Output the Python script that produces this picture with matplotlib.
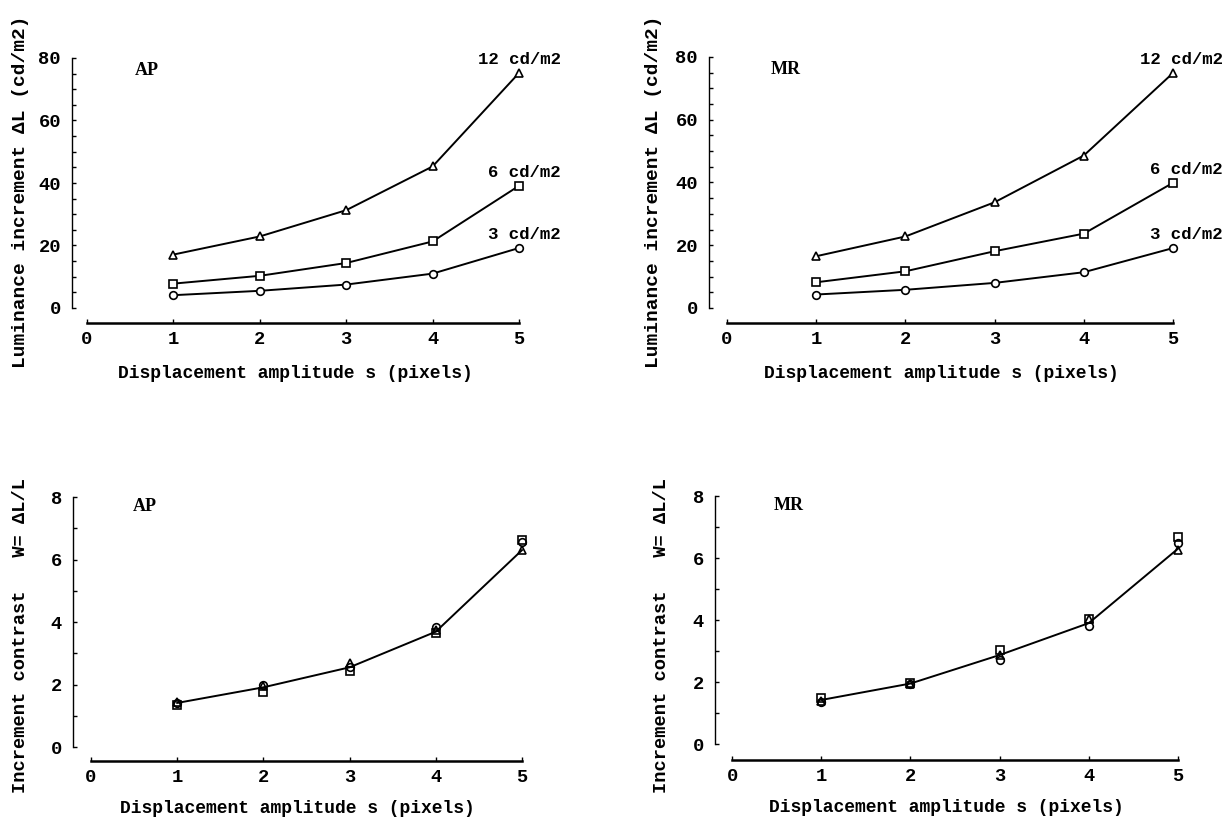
import matplotlib
matplotlib.use("Agg")
import matplotlib.pyplot as plt
from matplotlib.ticker import MultipleLocator

# Datos
s = [1, 2, 3, 4, 5]

# Incremento de luminancia (cd/m2), sujeto AP
ap_12 = [17.1, 22.9, 31.3, 45.3, 75.2]
ap_6 = [7.8, 10.3, 14.4, 21.3, 39.1]
ap_3 = [4.1, 5.5, 7.5, 11.0, 19.2]

# Incremento de luminancia (cd/m2), sujeto MR
mr_12 = [16.5, 22.8, 33.7, 48.6, 74.9]
mr_6 = [8.2, 11.7, 18.1, 23.7, 39.9]
mr_3 = [4.3, 5.8, 8.0, 11.4, 19.1]

# Contraste W = dL/L, sujeto AP
ap_w_12 = [1.45, 1.95, 2.68, 3.76, 6.29]
ap_w_6 = [1.33, 1.76, 2.44, 3.64, 6.63]
ap_w_3 = [1.40, 1.98, 2.57, 3.83, 6.55]
ap_w_fit = [1.41, 1.91, 2.55, 3.69, 6.30]

# Contraste W = dL/L, sujeto MR
mr_w_12 = [1.40, 1.93, 2.87, 4.02, 6.26]
mr_w_6 = [1.50, 1.97, 3.03, 4.02, 6.67]
mr_w_3 = [1.35, 1.95, 2.71, 3.80, 6.47]
mr_w_fit = [1.42, 1.95, 2.87, 3.90, 6.30]

levels = ["12 cd/m2", "6 cd/m2", "3 cd/m2"]
markers = ["^", "s", "o"]

W, H = 1229, 821
fig = plt.figure(figsize=(W / 100, H / 100), dpi=100)

mono = "Liberation Mono"
serif = "Liberation Serif"


def style_ticks(ax):
    for lab in ax.get_xticklabels() + ax.get_yticklabels():
        lab.set_family(mono)
        lab.set_weight("bold")
        lab.set_size(13.5)


def make_axes(spine_px, x0_px, x5_px, ytop_px, y0_px, xaxis_px, ymax):
    # posicion del eje en pixeles de la figura
    xunit = (x5_px - x0_px) / 5.0
    yunit = (y0_px - ytop_px) / ymax
    xmin = -(x0_px - spine_px) / xunit
    ymin = -(xaxis_px - y0_px) / yunit
    ax = fig.add_axes([spine_px / W, 1 - xaxis_px / H,
                       (x5_px - spine_px) / W, (xaxis_px - ytop_px) / H])
    ax.set_xlim(xmin, 5)
    ax.set_ylim(ymin, ymax)
    for side in ["top", "right"]:
        ax.spines[side].set_visible(False)
    ax.spines["left"].set_bounds(0, ymax)
    ax.spines["bottom"].set_bounds(0, 5)
    ax.spines["left"].set_linewidth(1.0)
    ax.spines["bottom"].set_linewidth(1.8)
    ax.set_xticks(range(6))
    ax.tick_params(axis="both", which="both", direction="in", length=3, width=1)
    ax.tick_params(axis="x", pad=6)
    ax.tick_params(axis="y", pad=8)
    return ax


def top_panel(ax, name, name_x, series, xoff, xlab_y, ylab_x, ylab_y):
    ax.set_yticks([0, 20, 40, 60, 80])
    ax.yaxis.set_minor_locator(MultipleLocator(5))
    style_ticks(ax)
    for vals, m, lev in zip(series, markers, levels):
        ax.plot(s, vals, color="black", lw=1.4, marker=m, ms=5.5,
                mfc="white", mec="black", mew=1.2, clip_on=False)
        ax.annotate(lev, xy=(s[-1], vals[-1]), xytext=(xoff, 9.5),
                    textcoords="offset points", ha="right", va="center",
                    family=mono, weight="bold", fontsize=12.5)
    ax.text(name_x, 76, name, ha="left", va="center", family=serif,
            weight="bold", fontsize=13)
    ax.set_xlabel("Displacement amplitude s (pixels)", family=mono,
                  weight="bold", fontsize=13)
    ax.xaxis.set_label_coords(0.5, -(xlab_y - 323) / 265.0)
    ax.xaxis.label.set_va("center")
    fig.text(ylab_x / W, 1 - ylab_y / H, "Luminance increment \u0394L (cd/m2)",
             rotation=90, ha="center", va="center", family=mono,
             weight="bold", fontsize=14)


def bottom_panel(ax, name, name_x, series, fit, ylab_x):
    ax.set_yticks([0, 2, 4, 6, 8])
    ax.yaxis.set_minor_locator(MultipleLocator(1))
    style_ticks(ax)
    ax.plot(s, fit, color="black", lw=1.4, clip_on=False)
    for vals, m in zip(series, markers):
        ax.plot(s, vals, ls="none", marker=m, ms=5.5, mfc="none",
                mec="black", mew=1.2, clip_on=False)
    ax.text(name_x, 7.7, name, ha="left", va="center", family=serif,
            weight="bold", fontsize=13)
    ax.set_xlabel("Displacement amplitude s (pixels)", family=mono,
                  weight="bold", fontsize=13)
    ax.xaxis.set_label_coords(0.5, -(808 - 761) / 264.0)
    ax.xaxis.label.set_va("center")
    fig.text(ylab_x / W, 1 - 635 / H, "Increment contrast   W= \u0394L/L",
             rotation=90, ha="center", va="center", family=mono,
             weight="bold", fontsize=13.5)


ax1 = make_axes(72, 87, 519, 58, 308, 323, 80)
top_panel(ax1, "AP", 0.55, [ap_12, ap_6, ap_3], 30, 373, 21, 192)

ax2 = make_axes(709, 727, 1173, 57, 308, 323, 80)
top_panel(ax2, "MR", 0.49, [mr_12, mr_6, mr_3], 36, 373, 653, 192)

ax3 = make_axes(73, 91, 522, 497, 747, 761, 8)
bottom_panel(ax3, "AP", 0.49, [ap_w_12, ap_w_6, ap_w_3], ap_w_fit, 21)

ax4 = make_axes(715, 732, 1178, 496, 744, 760, 8)
bottom_panel(ax4, "MR", 0.47, [mr_w_12, mr_w_6, mr_w_3], mr_w_fit, 661)

fig.savefig("out.png", dpi=100, facecolor="white")
